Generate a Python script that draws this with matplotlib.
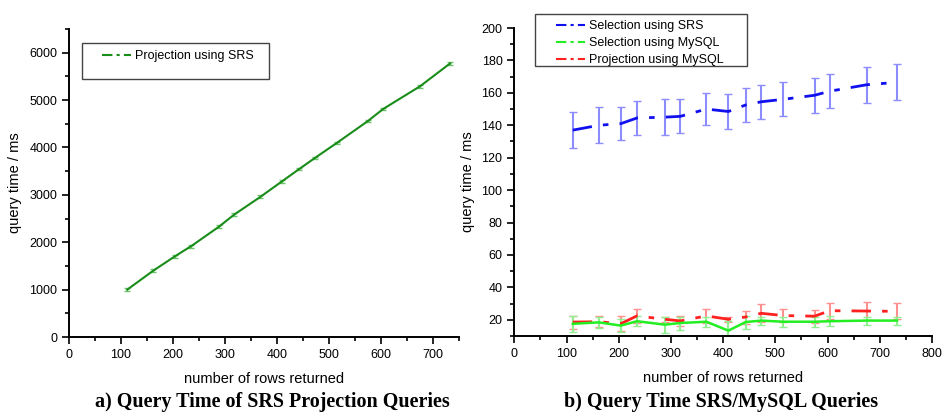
import matplotlib
matplotlib.use("Agg")
import matplotlib.pyplot as plt
from matplotlib.lines import Line2D
from matplotlib.patches import Rectangle
from matplotlib.ticker import MultipleLocator

plt.rcParams["font.family"] = ["Liberation Sans", "DejaVu Sans"]

# rows returned (shared by both panels)
rows = [112, 162, 204, 235, 288, 318, 368, 410, 443, 473, 515, 575, 604, 675, 733]

# a) projection using SRS
proj_srs = [1000, 1400, 1705, 1918, 2325, 2586, 2957, 3288, 3547, 3779, 4095, 4559, 4811, 5290, 5774]
proj_srs_err = [30] * 15

# b) selection using SRS / MySQL, projection using MySQL
sel_srs = [137, 140, 141, 144.5, 145, 145.5, 150, 148.5, 152.5, 154.5, 156, 158.5, 161, 165, 166.5]
sel_srs_err = [11, 11, 10, 10.5, 11, 10.5, 10, 11, 10.5, 10.5, 10.5, 10.8, 10.5, 11.2, 11.2]
sel_mysql = [17.5, 18.4, 16.4, 19.1, 17, 18, 18.8, 13.3, 18.6, 19.5, 18.8, 18.8, 19.1, 19.5, 19.5]
sel_mysql_err = [5, 3.5, 4, 3, 5, 4, 3, 6, 4, 2.5, 3, 3, 3, 2.5, 2.5]
proj_mysql = [18.6, 18.8, 17.6, 22.4, 20.3, 19.3, 22.4, 20.3, 21.7, 24, 22.6, 22.2, 25.6, 25.4, 25.2]
proj_mysql_err = [4, 3.5, 4.5, 4.5, 1.5, 3, 4.5, 1.5, 4, 5.5, 4, 4, 5, 5.5, 5]

W, H = 943, 412
fig = plt.figure(figsize=(W / 100, H / 100), dpi=100)
ax1 = fig.add_axes([0.0732, 0.182, 0.4135, 0.7476])
ax2 = fig.add_axes([0.5454, 0.1845, 0.4429, 0.7475])


def style_axes(ax):
    for s in ["top", "right"]:
        ax.spines[s].set_visible(False)
    for s in ["left", "bottom"]:
        ax.spines[s].set_linewidth(1.4)
    ax.tick_params(which="both", direction="out", labelsize=9, colors="black", width=1.2)
    ax.tick_params(which="major", length=5)
    ax.tick_params(which="minor", length=3)
    ax.set_xlabel("number of rows returned", fontsize=10.5, labelpad=8)
    ax.set_ylabel("query time / ms", fontsize=10.5, labelpad=5)


def legend_box(x0, y0, x1, y1):
    # frame drawn in pixel coords of the figure (Origin-style wide padding)
    fig.patches.append(Rectangle((x0 / W, 1 - y1 / H), (x1 - x0) / W, (y1 - y0) / H,
                                 transform=fig.transFigure, fill=False,
                                 edgecolor="#444444", lw=1, zorder=5))


# panel a
ax1.errorbar(rows, proj_srs, yerr=proj_srs_err, color="#1a8c1a", lw=1.5,
             ecolor="#6cc46c", elinewidth=1, capsize=2.5)
ax1.set_xlim(0, 750)
ax1.set_ylim(0, 6500)
ax1.xaxis.set_major_locator(MultipleLocator(100))
ax1.xaxis.set_minor_locator(MultipleLocator(50))
ax1.yaxis.set_major_locator(MultipleLocator(1000))
ax1.yaxis.set_minor_locator(MultipleLocator(500))
style_axes(ax1)
h1 = [Line2D([], [], color="#1a8c1a", lw=1.5, dashes=(5, 2, 1.5, 2))]
fig.legend(h1, ["Projection using SRS"], loc="upper left",
           bbox_to_anchor=(102 / W, 1 - 50 / H), fontsize=9, frameon=False,
           borderpad=0, borderaxespad=0, handlelength=2.3, handletextpad=0.35)
legend_box(82, 43, 269, 79)

# panel b
ax2.errorbar(rows, sel_srs, yerr=sel_srs_err, color="#1010ee", lw=2,
             dashes=(7, 4, 2, 4), ecolor="#8c8cff", elinewidth=1.5, capsize=3)
ax2.errorbar(rows, proj_mysql, yerr=proj_mysql_err, color="#ff2020", lw=2,
             dashes=(7, 4, 2, 4), ecolor="#ff9090", elinewidth=1.5, capsize=3)
ax2.errorbar(rows, sel_mysql, yerr=sel_mysql_err, color="#22ee22", lw=1.8,
             ecolor="#90f090", elinewidth=1.5, capsize=3)
ax2.set_xlim(0, 800)
ax2.set_ylim(10, 200)
ax2.xaxis.set_major_locator(MultipleLocator(100))
ax2.xaxis.set_minor_locator(MultipleLocator(50))
ax2.yaxis.set_minor_locator(MultipleLocator(10))
ax2.set_yticks([20, 40, 60, 80, 100, 120, 140, 160, 180, 200])
style_axes(ax2)
h2 = [Line2D([], [], color="#1010ee", lw=1.5, dashes=(5, 2, 1.5, 2)),
      Line2D([], [], color="#22ee22", lw=1.5, dashes=(5, 2, 1.5, 2)),
      Line2D([], [], color="#ff2020", lw=1.5, dashes=(5, 2, 1.5, 2))]
fig.legend(h2, ["Selection using SRS", "Selection using MySQL", "Projection using MySQL"],
           loc="upper left", bbox_to_anchor=(556 / W, 1 - 20 / H), fontsize=9,
           frameon=False, borderpad=0, borderaxespad=0, handlelength=2.3,
           handletextpad=0.35, labelspacing=0.4)
legend_box(535, 14, 747, 66)

fig.text(272 / W, 1 - 407 / H, "a) Query Time of SRS Projection Queries",
         ha="center", va="baseline", fontsize=14.5, fontweight="bold",
         family="Liberation Serif")
fig.text(721 / W, 1 - 407 / H, "b) Query Time SRS/MySQL Queries",
         ha="center", va="baseline", fontsize=14.5, fontweight="bold",
         family="Liberation Serif")

fig.savefig("out.png", dpi=100)
